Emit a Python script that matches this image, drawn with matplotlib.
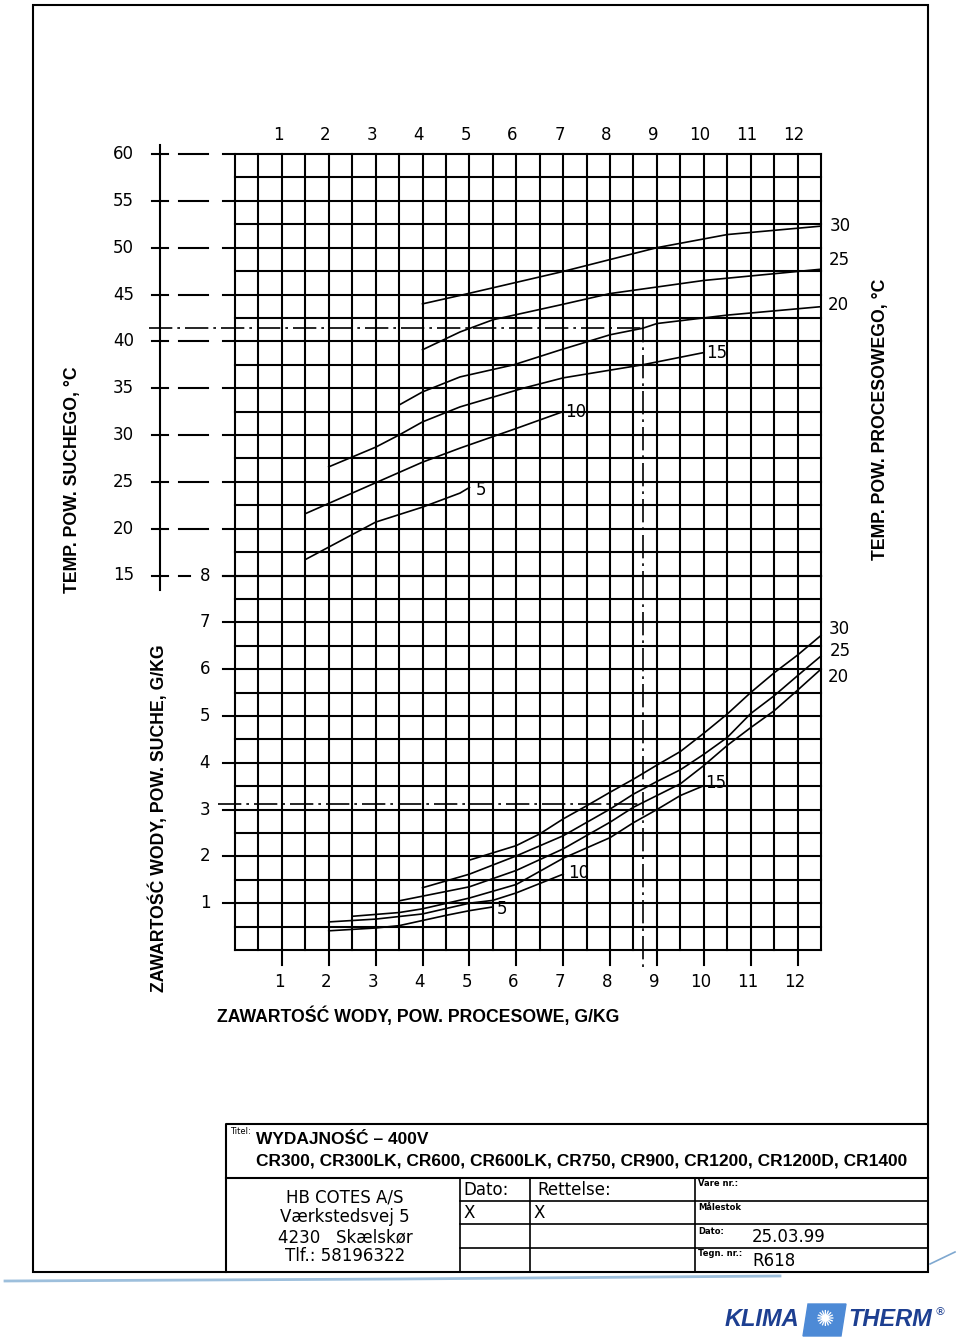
import numpy as np
import matplotlib.pyplot as plt
from matplotlib.patches import Rectangle, Polygon

plt.rcParams['font.family'] = ['DejaVu Sans']

# ---- data ----
x_ticks = [1, 2, 3, 4, 5, 6, 7, 8, 9, 10, 11, 12]
temp_ticks = [60, 55, 50, 45, 40, 35, 30, 25, 20, 15]
hum_ticks = [1, 2, 3, 4, 5, 6, 7, 8]

# top chart: dry air temp (C) vs process water content, one curve per process temp
top_x_5 = [1.5, 3.0, 4.0, 4.8, 5.0]
top_t_5 = [16.7, 20.7, 22.3, 23.8, 24.4]
top_x_10 = [1.5, 3.0, 4.0, 4.8, 6.0, 7.0]
top_t_10 = [21.6, 24.9, 27.1, 28.6, 30.7, 32.5]
top_x_15 = [2.0, 3.0, 3.5, 4.0, 4.8, 6.15, 7.0, 8.7, 10.0]
top_t_15 = [26.6, 28.7, 30.0, 31.4, 33.0, 35.0, 36.1, 37.5, 38.8]
top_x_20 = [3.5, 4.0, 4.8, 5.95, 6.95, 8.0, 8.7, 9.0, 10.0, 10.5, 12.5]
top_t_20 = [33.2, 34.6, 36.2, 37.5, 39.1, 40.7, 41.4, 41.9, 42.5, 42.8, 43.7]
top_x_25 = [4.0, 4.8, 5.5, 6.95, 8.0, 10.0, 12.5]
top_t_25 = [39.1, 41.0, 42.3, 43.9, 45.1, 46.5, 47.7]
top_x_30 = [4.0, 4.8, 6.95, 9.0, 10.5, 12.5]
top_t_30 = [44.0, 44.9, 47.4, 50.0, 51.4, 52.3]

# bottom chart: dry air water content (g/kg) vs process water content
bot_x_5 = [2.0, 3.0, 3.5, 4.0, 4.5, 5.0, 5.5]
bot_h_5 = [0.41, 0.47, 0.52, 0.63, 0.74, 0.84, 0.92]
bot_x_10 = [2.0, 3.0, 4.0, 5.0, 5.5, 6.0, 7.0]
bot_h_10 = [0.60, 0.66, 0.77, 1.0, 1.06, 1.22, 1.62]
bot_x_15 = [2.5, 3.5, 4.0, 5.0, 6.0, 7.0, 8.0, 8.5, 9.0, 9.5, 10.0]
bot_h_15 = [0.72, 0.80, 0.88, 1.11, 1.40, 1.96, 2.40, 2.72, 3.0, 3.3, 3.51]
bot_x_20 = [3.5, 4.0, 5.0, 6.0, 7.0, 8.0, 8.5, 9.0, 9.5, 10.0, 10.5, 11.0, 11.5, 12.0, 12.5]
bot_h_20 = [1.05, 1.15, 1.35, 1.70, 2.16, 2.73, 3.05, 3.30, 3.55, 3.94, 4.37, 4.75, 5.11, 5.55, 6.0]
bot_x_25 = [4.0, 5.0, 6.0, 7.0, 8.0, 8.5, 9.0, 9.5, 10.0, 10.5, 11.0, 11.5, 12.0, 12.5]
bot_h_25 = [1.33, 1.62, 2.01, 2.44, 3.01, 3.33, 3.60, 3.85, 4.18, 4.54, 5.05, 5.43, 5.86, 6.28]
bot_x_30 = [5.0, 6.0, 6.5, 7.0, 7.5, 8.0, 8.5, 9.0, 9.5, 10.0, 10.5, 11.0, 11.5, 12.0, 12.5]
bot_h_30 = [1.92, 2.23, 2.48, 2.80, 3.08, 3.37, 3.65, 3.95, 4.24, 4.63, 5.04, 5.50, 5.92, 6.30, 6.72]

# example reading (dash-dot construction)
sel_x = 8.7
sel_t = 41.4
sel_h = 3.12

W, H = 960, 1344
fig = plt.figure(figsize=(W / 100, H / 100), dpi=100)


def box(l, t, r, b):
    return [l / W, 1 - b / H, (r - l) / W, (b - t) / H]


bg = fig.add_axes([0, 0, 1, 1])
bg.set_xlim(0, W)
bg.set_ylim(H, 0)
bg.axis('off')

ax_t = fig.add_axes(box(235, 154, 821, 575.5))
ax_t.set_xlim(0, 12.5)
ax_t.set_ylim(15, 60)
ax_t.axis('off')
ax_b = fig.add_axes(box(235, 575.5, 821, 950))
ax_b.set_xlim(0, 12.5)
ax_b.set_ylim(0, 8)
ax_b.axis('off')

LW = 1.5
k = 'black'

# grid
for xv in np.arange(0, 12.51, 0.5):
    ax_t.plot([xv, xv], [15, 60], color=k, lw=LW, clip_on=False)
    ax_b.plot([xv, xv], [0, 8], color=k, lw=LW, clip_on=False)
for tv in np.arange(15, 60.1, 2.5):
    x0 = -0.26 if tv % 5 == 0 else 0
    ax_t.plot([x0, 12.5], [tv, tv], color=k, lw=LW, clip_on=False)
for hv in np.arange(0, 8.01, 0.5):
    x0 = -0.26 if (hv % 1 == 0 and hv > 0) else 0
    ax_b.plot([x0, 12.5], [hv, hv], color=k, lw=LW, clip_on=False)

# left temperature scale
ax_t.plot([-1.6, -1.6], [13.45, 61.0], color=k, lw=LW, clip_on=False)
for tv in temp_ticks:
    ax_t.plot([-1.77, -1.43], [tv, tv], color=k, lw=LW, clip_on=False)
    x1 = -0.96 if tv == 15 else -0.57
    ax_t.plot([-1.2, x1], [tv, tv], color=k, lw=LW, clip_on=False)
    ax_t.text(-2.15, tv, str(tv), ha='right', va='center', fontsize=12, clip_on=False)

# left water content scale
for hv in hum_ticks:
    ax_b.text(-0.64, hv, str(hv), ha='center', va='center', fontsize=12, clip_on=False)

# x ticks
for xv in x_ticks:
    ax_b.plot([xv, xv], [0, -0.32], color=k, lw=LW, clip_on=False)
    ax_b.text(xv - 0.06, -0.68, str(xv), ha='center', va='center', fontsize=12, clip_on=False)
    ax_t.text(xv - 0.08, 62.0, str(xv), ha='center', va='center', fontsize=12, clip_on=False)

# curves
CLW = 1.2
top_curves = [(top_x_5, top_t_5, '5', (6, -3)), (top_x_10, top_t_10, '10', (2, 0)),
              (top_x_15, top_t_15, '15', (2, 0)), (top_x_20, top_t_20, '20', (7, 2)),
              (top_x_25, top_t_25, '25', (8, 9)), (top_x_30, top_t_30, '30', (9, 0))]
for xs, ys, lab, off in top_curves:
    ax_t.plot(xs, ys, color=k, lw=CLW, clip_on=False)
    ax_t.annotate(lab, (xs[-1], ys[-1]), xytext=off, textcoords='offset pixels',
                  ha='left', va='center', fontsize=12)

bot_curves = [(bot_x_5, bot_h_5, '5', (4, -2)), (bot_x_10, bot_h_10, '10', (5, 1)),
              (bot_x_15, bot_h_15, '15', (1, 3)), (bot_x_20, bot_h_20, '20', (7, -8)),
              (bot_x_25, bot_h_25, '25', (9, 5)), (bot_x_30, bot_h_30, '30', (8, 6))]
for xs, ys, lab, off in bot_curves:
    ax_b.plot(xs, ys, color=k, lw=CLW, clip_on=False)
    ax_b.annotate(lab, (xs[-1], ys[-1]), xytext=off, textcoords='offset pixels',
                  ha='left', va='center', fontsize=12)

# dash-dot construction lines
dd = (0, (14, 3, 1.6, 3))
ax_t.plot([-1.83, sel_x], [sel_t, sel_t], color=k, lw=1.2, ls=dd, clip_on=False)
ax_t.plot([sel_x, sel_x], [42.4, 15], color=k, lw=1.2, ls=dd, clip_on=False)
ax_b.plot([sel_x, sel_x], [8, -0.36], color=k, lw=1.2, ls=dd, clip_on=False)
ax_b.plot([-0.36, sel_x], [sel_h, sel_h], color=k, lw=1.2, ls=dd, clip_on=False)

# axis titles
lab_font = dict(fontsize=12.7, fontweight='bold', family='Liberation Sans')
fig.text(72 / W, 1 - 480 / H, 'TEMP. POW. SUCHEGO, °C', rotation=90, ha='center', va='center', **lab_font)
fig.text(158 / W, 1 - 818 / H, 'ZAWARTOŚĆ WODY, POW. SUCHE, G/KG', rotation=90, ha='center', va='center', **lab_font)
fig.text(880 / W, 1 - 419 / H, 'TEMP. POW. PROCESOWEGO, °C', rotation=90, ha='center', va='center', **lab_font)
fig.text(418 / W, 1 - 1016 / H, 'ZAWARTOŚĆ WODY, POW. PROCESOWE, G/KG', ha='center', va='center', **lab_font)

# drawing frame and title block
bg.add_patch(Rectangle((33, 5), 895, 1267, fill=False, lw=1.5, ec=k))
bg.plot([226, 226, 928], [1272, 1124, 1124], color=k, lw=1.5)
bg.plot([226, 928], [1178, 1178], color=k, lw=1.5)
for xv in [460, 530, 695]:
    bg.plot([xv, xv], [1178, 1272], color=k, lw=1.2)
for yv in [1201, 1224, 1248]:
    bg.plot([460, 928], [yv, yv], color=k, lw=1.2)

bg.text(230, 1131, 'Titel:', fontsize=6, va='center')
bg.text(256, 1140, 'WYDAJNOŚĆ – 400V', fontsize=12.5, fontweight='bold', family='Liberation Sans', va='center')
bg.text(256, 1161, 'CR300, CR300LK, CR600, CR600LK, CR750, CR900, CR1200, CR1200D, CR1400',
        fontsize=12.5, fontweight='bold', family='Liberation Sans', va='center')
for yv, s in [(1197, 'HB COTES A/S'), (1217, 'Værkstedsvej 5'), (1237, '4230   Skælskør'), (1256, 'Tlf.: 58196322')]:
    bg.text(345, yv, s, fontsize=12, ha='center', va='center')
bg.text(463, 1190, 'Dato:', fontsize=12, va='center')
bg.text(537, 1190, 'Rettelse:', fontsize=12, va='center')
bg.text(463, 1213, 'X', fontsize=12, va='center')
bg.text(533, 1213, 'X', fontsize=12, va='center')
for yv, s in [(1183, 'Vare nr.:'), (1207, 'Målestok'), (1231, 'Dato:'), (1254, 'Tegn. nr.:')]:
    bg.text(698, yv, s, fontsize=6, fontweight='bold', va='center')
bg.text(752, 1237, '25.03.99', fontsize=12, va='center')
bg.text(752, 1261, 'R618', fontsize=12, va='center')

# decorative line + logo
bg.plot([5, 400, 780], [1281, 1279, 1276], color='#9dbfdc', lw=2)
bg.plot([930, 955], [1264, 1252], color='#7fa8d0', lw=1.2)
blue = '#1d3f91'
bg.text(725, 1320, 'KLIMA', fontsize=17, fontweight='bold', style='italic', color=blue,
        family='Liberation Sans', va='center')
bg.add_patch(Polygon([(808, 1304), (846, 1304), (841, 1336), (803, 1336)], color='#4d8ad6'))
bg.text(825, 1320, '✺', fontsize=16, color='white', ha='center', va='center')
bg.text(848, 1320, 'THERM', fontsize=17, fontweight='bold', style='italic', color=blue,
        family='Liberation Sans', va='center')
bg.text(934, 1312, '®', fontsize=8, color=blue, va='center')

fig.savefig('out.png', dpi=100)
